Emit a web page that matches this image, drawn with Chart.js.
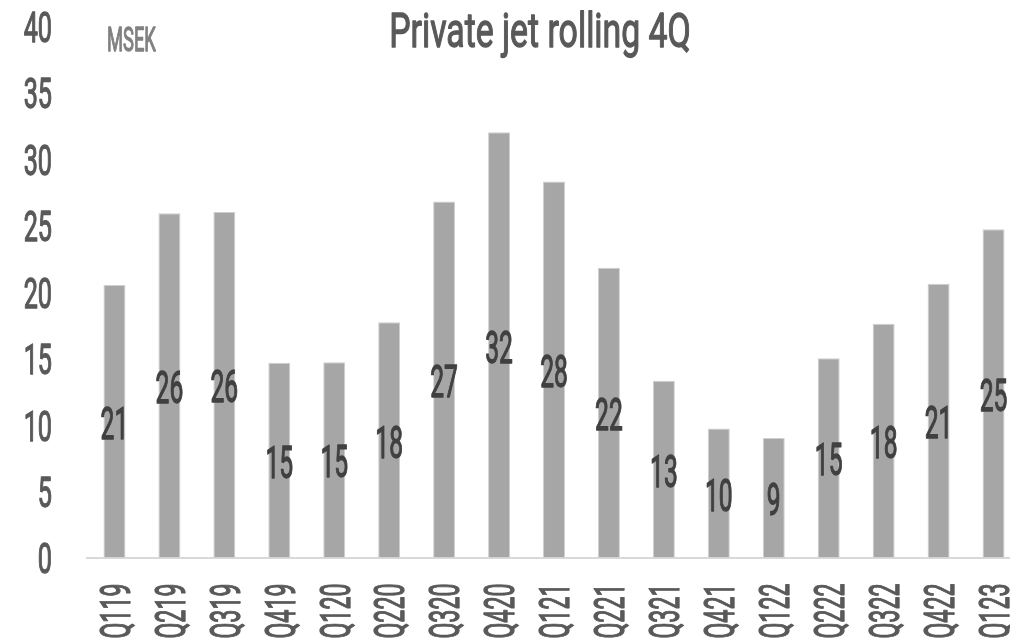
<!DOCTYPE html>
<html>
<head>
<meta charset="utf-8">
<script src="https://cdn.jsdelivr.net/npm/chart.js@4"></script>
<style>
  html, body { margin: 0; padding: 0; background: #fff; overflow: hidden; }
  #wrap { width: 1021px; height: 643px; position: relative; }
</style>
</head>
<body>
<div id="wrap"><canvas id="c"></canvas></div>
<script>
// Quarterly rolling four-quarter values, MSEK
const quarters = ['Q119','Q219','Q319','Q419','Q120','Q220','Q320','Q420','Q121','Q221','Q321','Q421','Q122','Q222','Q322','Q422','Q123'];
const values = [20.5, 25.9, 26.0, 14.65, 14.7, 17.7, 26.8, 32.0, 28.3, 21.8, 13.3, 9.7, 9.0, 15.0, 17.6, 20.6, 24.7];
const yTicks = [0, 5, 10, 15, 20, 25, 30, 35, 40];
const chartTitle = 'Private jet rolling 4Q';
const unitLabel = 'MSEK';

const FONT = 'Roboto, "DejaVu Sans", sans-serif';
const CAP = 0.711; // cap height of the face, in em
const HEFT = 1.3;  // extra outline that gives the regular face a medium weight

function paintText(ctx, text, color) {
  ctx.fillStyle = color;
  ctx.strokeStyle = color;
  ctx.lineWidth = HEFT;
  ctx.lineJoin = 'round';
  ctx.fillText(text, 0, 0);
  ctx.strokeText(text, 0, 0);
}

// Draws condensed text: the run is squeezed horizontally by `sx`
function condensed(ctx, text, x, y, size, sx, align, color) {
  ctx.save();
  ctx.font = size + 'px ' + FONT;
  ctx.textBaseline = 'alphabetic';
  ctx.textAlign = align;
  ctx.translate(x, y);
  ctx.scale(sx, 1);
  paintText(ctx, text, color);
  ctx.restore();
}

// Axis labels, bar values, title and unit, all in a narrow face
const textLayer = {
  id: 'textLayer',
  afterDraw(chart) {
    const ctx = chart.ctx;
    const xs = chart.scales.x, ys = chart.scales.y;

    // y tick labels, right-aligned beside the plot
    const tSize = 42;
    yTicks.forEach(v => {
      const py = ys.getPixelForValue(v);
      condensed(ctx, String(v), xs.left - 35, py + tSize * CAP / 2 + 1, tSize, 0.6, 'right', '#595959');
    });

    // rotated category labels under the axis
    const lSize = 43;
    quarters.forEach((q, i) => {
      const px = xs.getPixelForValue(i);
      ctx.save();
      ctx.translate(px + lSize * CAP / 2, ys.bottom + 26);
      ctx.rotate(-Math.PI / 2);
      ctx.scale(0.54, 1);
      ctx.font = lSize + 'px ' + FONT;
      ctx.textAlign = 'right';
      ctx.textBaseline = 'alphabetic';
      paintText(ctx, q, '#595959');
      ctx.restore();
    });

    // value labels centred inside each bar
    const meta = chart.getDatasetMeta(0);
    const vSize = 44;
    meta.data.forEach((bar, i) => {
      const mid = (bar.y + bar.base) / 2;
      condensed(ctx, String(Math.round(values[i])), bar.x, mid + vSize * CAP / 2 + 2, vSize, 0.56, 'center', '#404040');
    });

    condensed(ctx, chartTitle, 540, 47, 49, 0.69, 'center', '#595959');
    condensed(ctx, unitLabel, 107, 51, 34, 0.54, 'left', '#808080');
  }
};

new Chart(document.getElementById('c'), {
  type: 'bar',
  data: {
    labels: quarters,
    datasets: [{
      data: values,
      backgroundColor: '#a6a6a6',
      borderColor: '#cfcfcf',
      borderWidth: 1,
      categoryPercentage: 1,
      barPercentage: 0.4
    }]
  },
  options: {
    responsive: true,
    maintainAspectRatio: false,
    animation: false,
    layout: { padding: { top: 26, right: 0, left: 0, bottom: 0 } },
    plugins: { legend: { display: false }, tooltip: { enabled: false }, title: { display: false } },
    scales: {
      x: {
        grid: { display: false, drawTicks: false },
        border: { display: true, color: '#d9d9d9', width: 2 },
        ticks: { display: false },
        afterFit(scale) { scale.height = 85.5; }
      },
      y: {
        min: 0,
        max: 40,
        afterBuildTicks(scale) { scale.ticks = yTicks.map(v => ({ value: v })); },
        grid: { display: false, drawTicks: false },
        border: { display: false },
        ticks: { display: false },
        afterFit(scale) { scale.width = 87; }
      }
    }
  },
  plugins: [textLayer]
});
</script>
</body>
</html>
